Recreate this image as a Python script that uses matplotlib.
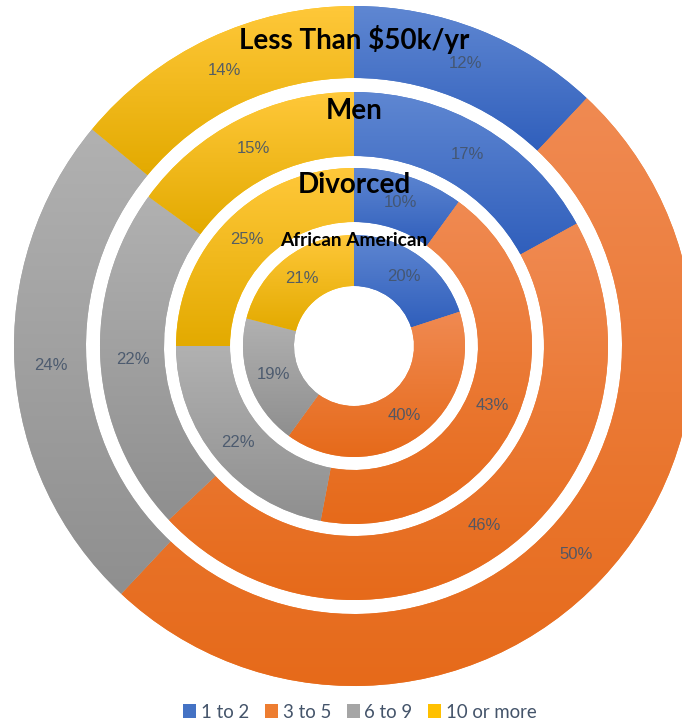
import matplotlib
matplotlib.use('agg')

import matplotlib.pyplot as plt
import matplotlib.patches as mpatches
import matplotlib.colors as mcolors
import numpy as np

# data, outer ring first
ring_names = ["Less Than $50k/yr", "Men", "Divorced", "African American"]
categories = ["1 to 2", "3 to 5", "6 to 9", "10 or more"]
income = [12, 50, 24, 14]
men = [17, 46, 22, 15]
divorced = [10, 43, 22, 25]
african_american = [20, 40, 19, 21]
ring_values = [income, men, divorced, african_american]

colors = ["#4472C4", "#ED7D31", "#A5A5A5", "#FFC000"]
# gradient stops (top, bottom) for each category
grad_top = ["#5F87D2", "#F08A52", "#B1B1B1", "#FFC83A"]
grad_bot = ["#305FBC", "#E66A1A", "#8F8F8F", "#E3AA00"]

# layout in pixels (figure is 682 x 723, axes maps 1 unit = 1 px)
W, H = 682, 723
cx, cy = 354, H - 346
ring_radii = [(268, 340), (190, 254), (124, 178), (60, 111)]
title_y = [40, 111, 185, 241]          # px from top
title_sizes = [20, 20, 20, 13.8]

fig = plt.figure(figsize=(W / 100, H / 100), dpi=100)
ax = fig.add_axes([0, 0, 1, 1])


def gradient_fill(wedge, c_top, c_bot):
    top = np.array(mcolors.to_rgb(c_top))
    bot = np.array(mcolors.to_rgb(c_bot))
    t = np.linspace(0, 1, 256)[:, None, None]
    img = top[None, None, :] * (1 - t) + bot[None, None, :] * t
    img = np.repeat(img, 2, axis=1)
    ext = wedge.get_path().get_extents()
    im = ax.imshow(img, extent=[ext.x0, ext.x1, ext.y0, ext.y1], origin='upper',
                   aspect='auto', interpolation='bilinear', zorder=1)
    im.set_clip_path(wedge)


for vals, (r_in, r_out) in zip(ring_values, ring_radii):
    wedges, texts, autotexts = ax.pie(
        vals, radius=r_out, center=(cx, cy), startangle=90, counterclock=False,
        colors=colors, autopct='%1.0f%%', pctdistance=(r_in + r_out) / 2 / r_out,
        wedgeprops=dict(width=r_out - r_in, linewidth=0),
        textprops=dict(color="#44546A", fontsize=12, family="Liberation Sans"))
    for w, ct, cb in zip(wedges, grad_top, grad_bot):
        gradient_fill(w, ct, cb)
        w.set_zorder(0)
    for t in autotexts:
        t.set_zorder(3)
        t.set_alpha(0.9)

for name, y, fs in zip(ring_names, title_y, title_sizes):
    ax.text(cx, H - y, name, ha='center', va='center', fontsize=fs,
            fontweight='bold', family='Lato', color='black', zorder=5)

ax.set_xlim(0, W)
ax.set_ylim(0, H)
ax.set_aspect('equal')
ax.axis('off')

handles = [mpatches.Patch(facecolor=c, edgecolor='none') for c in colors]
fig.legend(handles, categories, loc='center', bbox_to_anchor=(360 / W, 1 - 712 / H),
           ncol=4, frameon=False, handlelength=0.7, handleheight=0.7,
           handletextpad=0.25, columnspacing=0.85,
           prop=dict(family='Lato', size=13.4), labelcolor='#44546A')

fig.savefig("out.png", dpi=100)
